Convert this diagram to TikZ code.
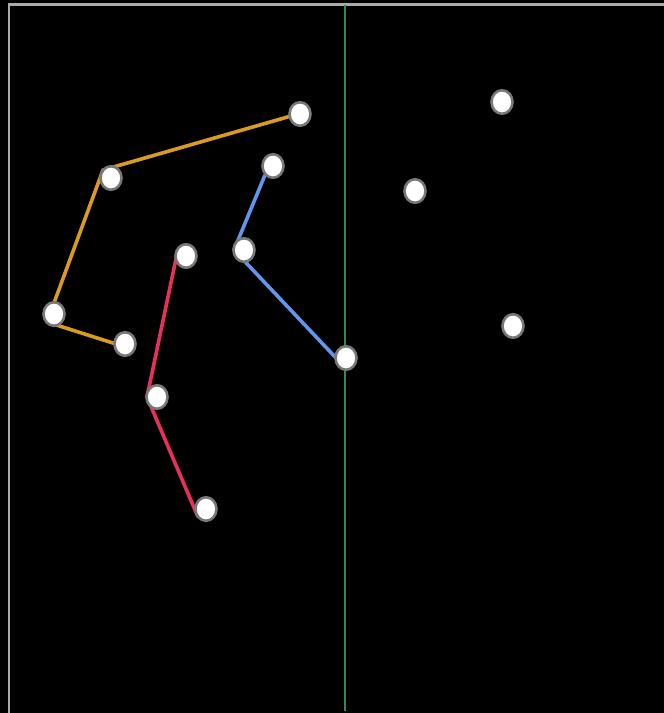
\documentclass[tikz,border=0pt]{standalone}
\definecolor{bordergrey}{RGB}{170,170,170}
\definecolor{axisgreen}{RGB}{46,139,87}
\definecolor{pathorange}{RGB}{218,155,30}
\definecolor{pathblue}{RGB}{100,149,237}
\definecolor{pathred}{RGB}{232,48,90}
\definecolor{ringgrey}{RGB}{120,120,120}
\usetikzlibrary{shapes.geometric}
\tikzset{
  pt/.style={ellipse, draw=ringgrey, line width=2.6pt, fill=white, minimum width=21pt, minimum height=23.5pt, inner sep=0pt},
  trail/.style={line width=3.6pt, line join=round},
}
\begin{document}
\begin{tikzpicture}[x=1pt,y=-1pt]
\fill[black] (0,0) rectangle (664,713);
\useasboundingbox (0,0) rectangle (664,713);
% frame
\coordinate (f1) at (9,713);
\coordinate (f2) at (9,4.5);
\coordinate (f3) at (664,4.5);
\draw[bordergrey, line width=2.5pt] (f1) -- (f2) -- (f3);
% vertical line
\coordinate (g1) at (345,5);
\coordinate (g2) at (345,711);
\draw[axisgreen, line width=1.4pt] (g1) -- (g2);
% path vertices
\coordinate (oa) at (291,116);
\coordinate (ob) at (103,170);
\coordinate (oc) at (47,322);
\coordinate (od) at (116,344);
\coordinate (ba) at (265,175);
\coordinate (bb) at (234,250);
\coordinate (bc) at (337,359);
\coordinate (ra) at (177,254);
\coordinate (rb) at (147,397);
\coordinate (rc) at (198,517);
\draw[trail, pathorange] (oa) -- (ob) -- (oc) -- (od);
\draw[trail, pathblue] (ba) -- (bb) -- (bc);
\draw[trail, pathred] (ra) -- (rb) -- (rc);
% nodes
\node[pt] (A) at (300,114) {};
\node[pt] (B) at (502,102) {};
\node[pt] (C) at (111,178) {};
\node[pt] (D) at (273,166) {};
\node[pt] (E) at (415,191) {};
\node[pt] (F) at (186,256) {};
\node[pt] (G) at (244,250) {};
\node[pt] (H) at (54,314) {};
\node[pt] (I) at (513,326) {};
\node[pt] (J) at (125,344) {};
\node[pt] (K) at (346,358) {};
\node[pt] (L) at (157,397) {};
\node[pt] (M) at (206,509) {};
\end{tikzpicture}
\end{document}
